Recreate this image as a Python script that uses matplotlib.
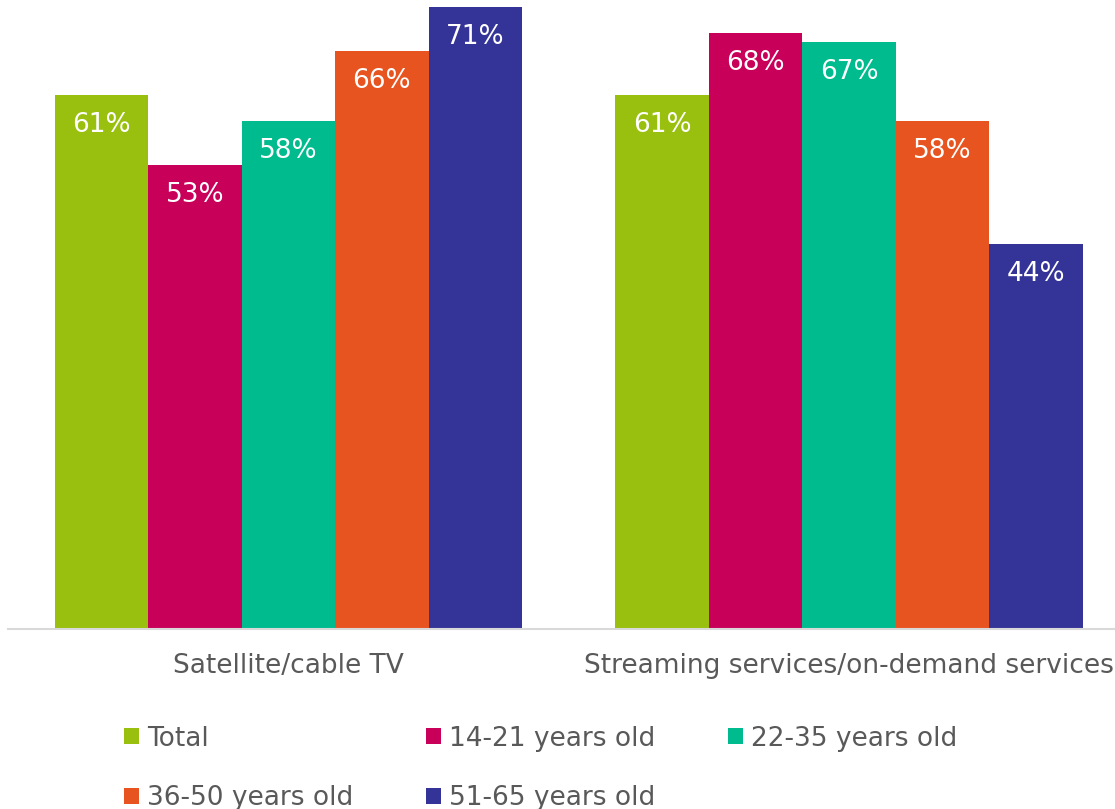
import matplotlib.pyplot as plt
import numpy as np

categories = ["Satellite/cable TV", "Streaming services/on-demand services"]
groups = ["Total", "14-21 years old", "22-35 years old", "36-50 years old", "51-65 years old"]
values = [
    [61, 61],   # Total
    [53, 68],   # 14-21
    [58, 67],   # 22-35
    [66, 58],   # 36-50
    [71, 44],   # 51-65
]
colors = ["#99c00f", "#c8005a", "#00bb8e", "#e75420", "#343397"]

plt.rcParams['font.family'] = ['DejaVu Sans']
grey = "#595959"

fig = plt.figure(figsize=(11.15, 8.09), dpi=100)
# axes runs a little past the right edge, like the original export
ax = fig.add_axes([8 / 1115, 180 / 809, 1121.5 / 1115, 629 / 809])

x = np.arange(len(categories))
width = 1 / 6
bars = []
for i, (name, vals) in enumerate(zip(groups, values)):
    pos = x + (i - 2) * width
    b = ax.bar(pos, vals, width, color=colors[i], label=name)
    bars.append(b)
    for p, v in zip(pos, vals):
        ax.annotate(f"{v}%", (p, v), xytext=(0, -30), textcoords='offset pixels',
                    ha='center', va='center', color='white', fontsize=19)

ax.set_xlim(-0.5, 1.5)
ax.set_ylim(0, 71.8)
ax.set_xticks(x)
ax.set_xticklabels(categories, fontsize=19, color=grey)
ax.tick_params(axis='x', length=0, pad=17)
ax.set_yticks([])
for s in ['top', 'right', 'left']:
    ax.spines[s].set_visible(False)
ax.spines['bottom'].set_color('#d9d9d9')
ax.spines['bottom'].set_linewidth(1.5)

# row-wise legend order for a 3-column layout
order = [0, 3, 1, 4, 2]
leg = fig.legend([bars[i] for i in order], [groups[i] for i in order],
                 loc='upper left', bbox_to_anchor=(124 / 1115, 1 - 725.5 / 809),
                 ncol=3, frameon=False, fontsize=19, labelcolor=grey,
                 handlelength=0.57, handleheight=0.57, handletextpad=0.3,
                 columnspacing=2.76, labelspacing=1.27, borderpad=0, borderaxespad=0)

fig.savefig("out.png", dpi=100)
